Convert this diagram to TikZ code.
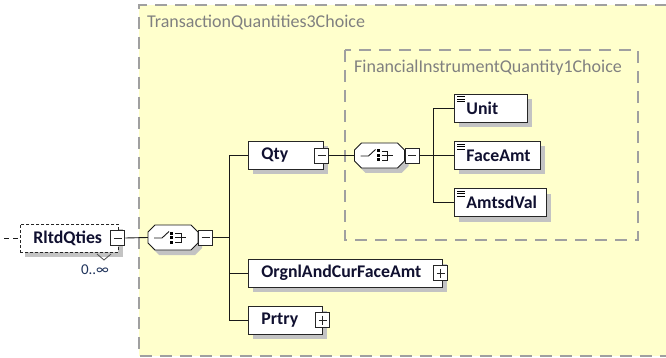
\documentclass[tikz,border=0pt]{standalone}
\usepackage{fontspec}
\setmainfont{Carlito}
\usetikzlibrary{positioning,calc,shadows}

\definecolor{paleyellow}{RGB}{255,255,204}
\definecolor{framegray}{RGB}{160,160,160}
\definecolor{titlegray}{RGB}{128,128,128}
\definecolor{shadowgray}{RGB}{195,195,195}
\definecolor{elemtext}{RGB}{16,16,48}
\definecolor{multblue}{RGB}{30,50,90}

\tikzset{
  conn/.style={draw=black!90, line width=0.9pt},
  frame/.style={draw=framegray, line width=1.3pt, dash pattern=on 12pt off 8pt},
  grouptitle/.style={anchor=west, inner sep=0pt, text=titlegray, font=\fontsize{18}{21}\selectfont},
  elem/.style={draw=black!85, line width=0.9pt, fill=white, anchor=west, minimum height=28pt,
    inner xsep=13pt, inner ysep=0pt, align=left, text=elemtext,
    font=\bfseries\fontsize{17.8}{20}\selectfont,
    drop shadow={shadow xshift=5pt, shadow yshift=-5pt, fill=shadowgray, opacity=1}},
  expbox/.style={draw=black!85, line width=0.9pt, fill=white, minimum width=14pt, minimum height=15pt, inner sep=0pt},
  minusbox/.style={expbox, path picture={
    \draw[line width=0.9pt] ([xshift=3pt]path picture bounding box.west) -- ([xshift=-3pt]path picture bounding box.east);}},
  plusbox/.style={expbox, path picture={
    \draw[line width=0.9pt] ([xshift=3pt]path picture bounding box.west) -- ([xshift=-3pt]path picture bounding box.east);
    \draw[line width=0.9pt] ([yshift=-3pt]path picture bounding box.north) -- ([yshift=3pt]path picture bounding box.south);}},
  choicenode/.style={minimum width=50pt, minimum height=25pt, inner sep=0pt},
  multlabel/.style={text=multblue, inner sep=0pt, font=\fontsize{15}{17}\selectfont}
}

% choice compositor: octagon with switch icon
\newcommand{\choicesym}[2]{%
  \node[choicenode] (#1) at (#2) {};
  \begin{scope}[shift={(#1.center)}]
    \fill[shadowgray, shift={(4,5)}] (-25,-5.5) -- (-18,-12.5) -- (18,-12.5) -- (25,-5.5)
      -- (25,5.5) -- (18,12.5) -- (-18,12.5) -- (-25,5.5) -- cycle;
    \draw[conn, fill=white] (-25,-5.5) -- (-18,-12.5) -- (18,-12.5) -- (25,-5.5)
      -- (25,5.5) -- (18,12.5) -- (-18,12.5) -- (-25,5.5) -- cycle;
    \draw[conn] (-19,0.5) -- (-11,0.5) -- (-4,-6);
    \foreach \dy in {-4.5,0,4.5} \fill (-3,\dy-1.5) rectangle ++(3,3);
    \draw[conn] (2,-4.5) -- (8,-4.5) -- (8,4.5) -- (2,4.5) (2,0) -- (13,0);
  \end{scope}}

\begin{document}
\begin{tikzpicture}[x=1pt, y=-1pt]
    \useasboundingbox (0,0) rectangle (666,358);

    % Outer group
    \fill[paleyellow] (139,5) rectangle (667,356);
    \draw[frame] (667,5) -- (139,5) -- (139,356) -- (667,356);
    \node[grouptitle] (outertitle) at (147,22) {TransactionQuantities3Choice};

    % Inner group
    \draw[frame] (345,50) rectangle (638,240);
    \node[grouptitle] (innertitle) at (354,68) {FinancialInstrumentQuantity1Choice};

    % Root element
    \coordinate (lead) at (4,238);
    \node[elem, dash pattern=on 3pt off 2pt, text width=72pt] (rltd) at (20,238) {RltdQties};
    \node[minusbox] (rltdexp) at ([xshift=-1pt]rltd.east) {};
    \draw[conn, dash pattern=on 5pt off 4pt] (lead) -- (rltd.west);
    \draw[black!70, line width=0.8pt] (97,254) -- (104,260) -- (111,254);
    \node[multlabel] (mult) at (95,270) {0..∞};

    % First choice
    \choicesym{ch1}{173,237.5}
    \node[minusbox, anchor=west] (ch1exp) at (ch1.east) {};
    \draw[conn] (rltdexp.east) -- (ch1.west);

    \node[elem, text width=49pt] (qty) at (248,155.5) {Qty};
    \node[minusbox] (qtyexp) at ([xshift=-2pt]qty.east) {};
    \node[elem, text width=168pt] (orgnl) at (248,273) {OrgnlAndCurFaceAmt};
    \node[plusbox] (orgnlexp) at ([xshift=-2pt]orgnl.east) {};
    \node[elem, text width=48pt] (prtry) at (248,320) {Prtry};
    \node[plusbox] (prtryexp) at (prtry.east) {};
    \foreach \n in {qty,orgnl,prtry}
        \draw[conn] (ch1exp.east) -- ++(16,0) |- (\n.west);

    % Second choice
    \choicesym{ch2}{379.5,155.5}
    \node[minusbox, anchor=west] (ch2exp) at (ch2.east) {};
    \draw[conn] (qtyexp.east) -- (ch2.west);

    \node[elem, inner xsep=12pt, text width=49pt] (unit) at (454,108) {Unit};
    \node[elem, inner xsep=12pt, text width=62pt] (faceamt) at (454,155.5) {FaceAmt};
    \node[elem, inner xsep=12pt, text width=68pt] (amtsdval) at (454,202.5) {AmtsdVal};
    \foreach \n in {unit,faceamt,amtsdval} {
        \draw[conn] (ch2exp.east) -- ++(14,0) |- (\n.west);
        \foreach \k in {0,1,2}
            \draw[line width=0.8pt] ([shift={(3,3+2.5*\k)}]\n.north west) -- ++(8,0);
    }
\end{tikzpicture}
\end{document}
